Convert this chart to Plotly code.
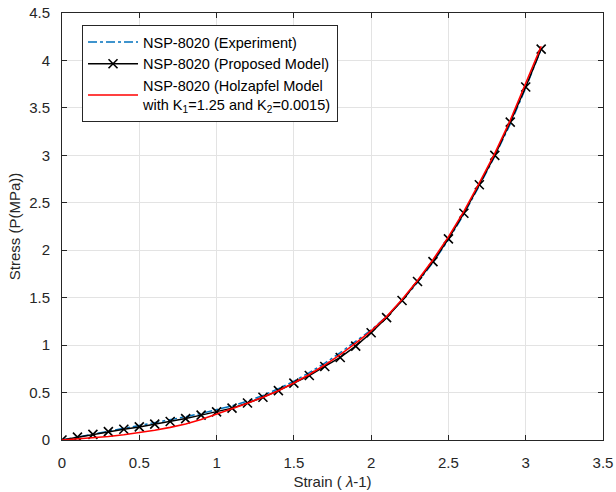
import plotly.graph_objects as go

# Strain sample points (lambda - 1)
strain = [0.0, 0.1, 0.2, 0.3, 0.4, 0.5, 0.6, 0.7, 0.8, 0.9, 1.0,
          1.1, 1.2, 1.3, 1.4, 1.5, 1.6, 1.7, 1.8, 1.9, 2.0,
          2.1, 2.2, 2.3, 2.4, 2.5, 2.6, 2.7, 2.8, 2.9, 3.0, 3.1]

# Measured stress (MPa)
stress_experiment = [0.0, 0.03, 0.06, 0.09, 0.12, 0.15, 0.18, 0.21, 0.245, 0.28, 0.32,
                     0.36, 0.41, 0.47, 0.54, 0.62, 0.71, 0.81, 0.92, 1.04, 1.16,
                     1.30, 1.47, 1.66, 1.87, 2.11, 2.38, 2.68, 2.99, 3.33, 3.71, 4.12]

# Proposed constitutive model (MPa)
stress_proposed = [0.0, 0.03, 0.06, 0.088, 0.113, 0.138, 0.167, 0.195, 0.226, 0.262, 0.297,
                   0.336, 0.39, 0.45, 0.52, 0.60, 0.68, 0.775, 0.87, 0.99, 1.13,
                   1.29, 1.47, 1.67, 1.88, 2.12, 2.39, 2.69, 3.0, 3.35, 3.72, 4.12]

# Holzapfel model fit, K1 = 1.25, K2 = 0.0015 (MPa)
stress_holzapfel = [0.0, 0.01, 0.022, 0.037, 0.056, 0.078, 0.103, 0.133, 0.168, 0.215, 0.27,
                    0.328, 0.388, 0.45, 0.52, 0.60, 0.69, 0.79, 0.90, 1.02, 1.15,
                    1.30, 1.48, 1.68, 1.90, 2.14, 2.41, 2.71, 3.02, 3.37, 3.75, 4.15]

x_ticks = [0, 0.5, 1, 1.5, 2, 2.5, 3, 3.5]
y_ticks = [0, 0.5, 1, 1.5, 2, 2.5, 3, 3.5, 4, 4.5]
tick_text_x = ["0", "0.5", "1", "1.5", "2", "2.5", "3", "3.5"]
tick_text_y = ["0", "0.5", "1", "1.5", "2", "2.5", "3", "3.5", "4", "4.5"]

axis_color = "#262626"
grid_color = "#e3e3e3"
font_family = "Liberation Sans, Arial, sans-serif"

fig = go.Figure()

fig.add_trace(go.Scatter(
    x=strain, y=stress_experiment, mode="lines",
    name="NSP-8020 (Experiment)",
    line=dict(color="#0072BD", width=1.5, dash="dashdot"),
))

fig.add_trace(go.Scatter(
    x=strain, y=stress_proposed, mode="lines+markers",
    name="NSP-8020 (Proposed Model)",
    line=dict(color="black", width=1.5),
    marker=dict(symbol="x-thin", size=9, color="black",
                line=dict(color="black", width=1.6)),
))

fig.add_trace(go.Scatter(
    x=strain, y=stress_holzapfel, mode="lines",
    name="NSP-8020 (Holzapfel Model<br>with K<sub>1</sub>=1.25 and K<sub>2</sub>=0.0015)",
    line=dict(color="#ff0000", width=1.6),
))

axis_common = dict(
    showline=True, linecolor=axis_color, linewidth=1, mirror="ticks",
    ticks="inside", ticklen=5, tickwidth=1, tickcolor=axis_color,
    showgrid=True, gridcolor=grid_color, gridwidth=1,
    zeroline=False, automargin=False,
    tickfont=dict(family=font_family, size=15, color=axis_color),
)

fig.update_xaxes(
    range=[0, 3.5], tickvals=x_ticks, ticktext=tick_text_x,
    ticklabelstandoff=9,
    title=dict(text="Strain ( <i>λ</i>-1)", standoff=6,
               font=dict(family=font_family, size=15, color=axis_color)),
    **axis_common,
)
fig.update_yaxes(
    range=[0, 4.5], tickvals=y_ticks, ticktext=tick_text_y,
    ticklabelstandoff=8,
    title=dict(text="Stress (P(MPa))", standoff=4,
               font=dict(family=font_family, size=15, color=axis_color)),
    **axis_common,
)

fig.update_layout(
    width=616, height=492,
    margin=dict(l=62, r=13, t=13, b=52),
    paper_bgcolor="white", plot_bgcolor="white",
    font=dict(family=font_family, size=15, color=axis_color),
    showlegend=True,
    legend=dict(
        x=0.037, y=0.972, xanchor="left", yanchor="top",
        bgcolor="white", bordercolor=axis_color, borderwidth=1,
        font=dict(family=font_family, size=14.5, color="black"),
        tracegroupgap=0, itemwidth=50,
    ),
)

fig.write_html("out.html")
